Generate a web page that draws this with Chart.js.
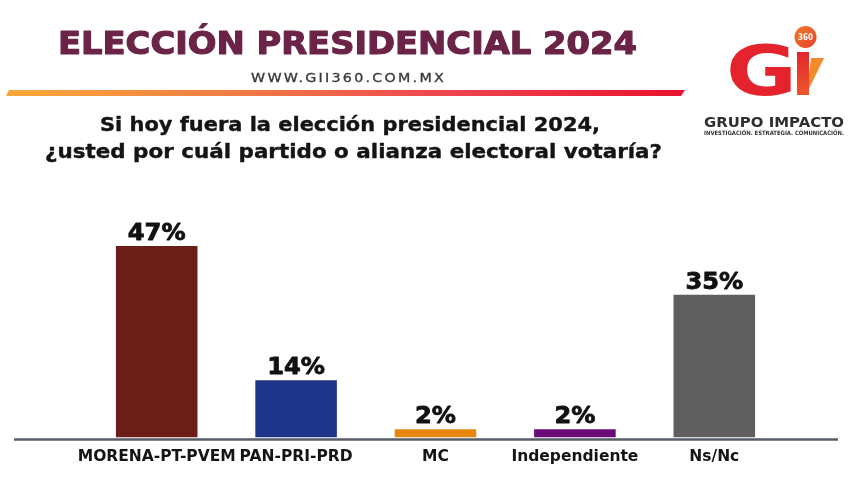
<!DOCTYPE html>
<html lang="es">
<head>
<meta charset="utf-8">
<title>Elección presidencial 2024</title>
<script src="https://cdn.jsdelivr.net/npm/chart.js@4/dist/chart.umd.min.js"></script>
<style>
  html, body { margin: 0; padding: 0; background: #ffffff; }
  #chart { display: block; }
</style>
</head>
<body>
<canvas id="chart" width="859" height="482"></canvas>
<script>
const categories = ["MORENA-PT-PVEM", "PAN-PRI-PRD", "MC", "Independiente", "Ns/Nc"];
const shares = [47, 14, 2, 2, 35];
const barColors = ["#6c1d17", "#1f3589", "#e8870f", "#6b0b78", "#5f5f5f"];

const title = "ELECCIÓN PRESIDENCIAL 2024";
const website = "WWW.GII360.COM.MX";
const questionLines = [
  "Si hoy fuera la elección presidencial 2024,",
  "¿usted por cuál partido o alianza electoral votaría?"
];
const brandName = "GRUPO IMPACTO";
const brandTagline = "INVESTIGACIÓN. ESTRATEGIA. COMUNICACIÓN.";

const FONT = "'DejaVu Sans', 'Liberation Sans', sans-serif";

// draw text stretched or squeezed so it spans exactly left..right
function fitText(ctx, text, left, right, baseline, font, color, spacing = "0px", stroke = 0) {
  ctx.save();
  ctx.font = font;
  ctx.letterSpacing = spacing;
  ctx.textAlign = "left";
  ctx.textBaseline = "alphabetic";
  const natural = ctx.measureText(text).width;
  ctx.translate(left, baseline);
  ctx.scale((right - left) / natural, 1);
  ctx.fillStyle = color;
  ctx.fillText(text, 0, 0);
  if (stroke) {
    ctx.strokeStyle = color;
    ctx.lineWidth = stroke;
    ctx.lineJoin = "round";
    ctx.strokeText(text, 0, 0);
  }
  ctx.restore();
}

function drawLogo(ctx) {
  ctx.save();
  // orange shard of the "i"
  ctx.fillStyle = "#f28a2c";
  ctx.beginPath();
  ctx.moveTo(806, 95);
  ctx.lineTo(811, 58);
  ctx.lineTo(824, 58);
  ctx.closePath();
  ctx.fill();
  // stem of the "i"
  const stem = ctx.createLinearGradient(797, 52, 810, 95);
  stem.addColorStop(0, "#e3232b");
  stem.addColorStop(1, "#ee5a2a");
  ctx.fillStyle = stem;
  ctx.fillRect(797, 52, 12, 43);
  // big G
  const g = ctx.createLinearGradient(727, 45, 797, 95);
  g.addColorStop(0, "#e5232c");
  g.addColorStop(0.6, "#ea3b2a");
  g.addColorStop(1, "#f27c2a");
  ctx.font = `bold 70px ${FONT}`;
  const gw = ctx.measureText("G").width;
  ctx.translate(726, 95);
  ctx.scale(71 / gw, 1);
  ctx.fillStyle = g;
  ctx.fillText("G", 0, 0);
  ctx.restore();

  // 360 badge
  ctx.save();
  const badge = ctx.createLinearGradient(794, 26, 817, 48);
  badge.addColorStop(0, "#f07a2c");
  badge.addColorStop(1, "#e8412b");
  ctx.fillStyle = badge;
  ctx.beginPath();
  ctx.arc(805.5, 37, 11, 0, Math.PI * 2);
  ctx.fill();
  ctx.restore();
  fitText(ctx, "360", 798, 813, 40, `bold 8px ${FONT}`, "#ffffff");

  fitText(ctx, brandName, 704, 844, 127, `bold 14px ${FONT}`, "#2e2e2e");
  fitText(ctx, brandTagline, 704, 844, 135, `bold 6px ${FONT}`, "#333333");
}

const headerPlugin = {
  id: "header",
  beforeDraw(chart) {
    const ctx = chart.ctx;
    ctx.save();
    ctx.fillStyle = "#ffffff";
    ctx.fillRect(0, 0, chart.width, chart.height);
    ctx.restore();

    fitText(ctx, title, 58, 637, 54, `bold 32px ${FONT}`, "#6b2447", "0px", 1.2);
    fitText(ctx, website, 251, 446, 82, `11.5px ${FONT}`, "#3a3a3a", "1.8px", 0.3);

    ctx.save();
    const band = ctx.createLinearGradient(6, 0, 685, 0);
    band.addColorStop(0, "#f7a838");
    band.addColorStop(0.35, "#f37a44");
    band.addColorStop(0.65, "#ee4550");
    band.addColorStop(1, "#e8122e");
    ctx.fillStyle = band;
    ctx.beginPath();
    ctx.moveTo(9, 90);
    ctx.lineTo(685, 90);
    ctx.lineTo(681, 96);
    ctx.lineTo(6, 96);
    ctx.closePath();
    ctx.fill();
    ctx.restore();

    fitText(ctx, questionLines[0], 100, 600, 131, `bold 20px ${FONT}`, "#141414", "0px", 0.4);
    fitText(ctx, questionLines[1], 45, 662, 158, `bold 20px ${FONT}`, "#141414", "0px", 0.4);

    drawLogo(ctx);
  },
  afterDatasetsDraw(chart) {
    const ctx = chart.ctx;
    const zeroY = chart.scales.y.getPixelForValue(0);
    ctx.save();
    ctx.strokeStyle = "#585e69";
    ctx.lineWidth = 2.5;
    ctx.beginPath();
    ctx.moveTo(14, zeroY + 2);
    ctx.lineTo(838, zeroY + 2);
    ctx.stroke();
    ctx.restore();

    chart.getDatasetMeta(0).data.forEach((bar, i) => {
      const label = `${shares[i]}%`;
      ctx.save();
      ctx.font = `bold 23px ${FONT}`;
      const w = ctx.measureText(label).width * 1.05;
      ctx.restore();
      fitText(ctx, label, bar.x - w / 2, bar.x + w / 2, bar.y - 6, `bold 23px ${FONT}`, "#111111", "0px", 0.8);
    });
  }
};

new Chart(document.getElementById("chart"), {
  type: "bar",
  data: {
    labels: categories,
    datasets: [{
      data: shares,
      backgroundColor: barColors,
      borderWidth: 0,
      barPercentage: 0.585,
      categoryPercentage: 1
    }]
  },
  options: {
    responsive: false,
    animation: false,
    layout: { padding: { top: 193, left: 87, right: 75, bottom: 6 } },
    plugins: {
      legend: { display: false },
      tooltip: { enabled: false }
    },
    scales: {
      x: {
        grid: { display: false, drawTicks: false },
        border: { display: false },
        ticks: {
          color: "#141414",
          font: { family: FONT, size: 15.5, weight: "bold" },
          padding: 10,
          autoSkip: false,
          maxRotation: 0,
          minRotation: 0
        }
      },
      y: {
        display: false,
        min: 0,
        max: 60
      }
    }
  },
  plugins: [headerPlugin]
});
</script>
</body>
</html>
